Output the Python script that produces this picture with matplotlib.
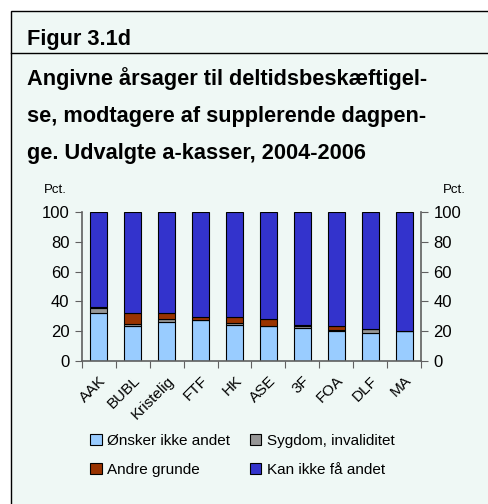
import numpy as np
import matplotlib.pyplot as plt
import matplotlib.transforms as mtransforms
from matplotlib.patches import Rectangle, Patch
from matplotlib.lines import Line2D

plt.rcParams['font.family'] = ['Liberation Sans', 'DejaVu Sans']

# --- Data (pct.) ---
kasser = ["AAK", "BUBL", "Kristelig", "FTF", "HK", "ASE", "3F", "FOA", "DLF", "MA"]
onsker_ikke = [32.0, 23.5, 26.4, 27.3, 23.9, 23.3, 21.9, 20.4, 19.0, 20.4]
sygdom = [3.5, 1.2, 2.0, 0.5, 1.4, 0.3, 1.4, 0.2, 2.5, 0.0]
andre = [0.5, 7.8, 3.6, 2.0, 4.0, 4.4, 1.1, 2.7, 0.3, 0.0]
kan_ikke = [64.0, 67.5, 68.0, 70.2, 70.7, 72.0, 75.6, 76.7, 78.2, 79.6]
series_names = ["Ønsker ikke andet", "Sygdom, invaliditet", "Andre grunde", "Kan ikke få andet"]
colors = ["#99CCFF", "#969696", "#993300", "#3333CC"]

bg = "#EFF8F5"
W, H = 489, 504
fig = plt.figure(figsize=(W / 100, H / 100), dpi=100, facecolor="white")

# panel box (open to the right and bottom)
fig.patches.append(Rectangle((10.5 / W, -0.05), 1.1, 1 - 11 / H + 0.05, transform=fig.transFigure,
                             facecolor=bg, edgecolor="black", lw=1.0, zorder=-2))
fig.lines.append(Line2D([10.5 / W, 1], [1 - 53 / H] * 2, transform=fig.transFigure,
                        color="black", lw=1.0, zorder=-1))

fig.text(27 / W, 1 - 45 / H, "Figur 3.1d", fontsize=15.7, fontweight="bold", va="baseline")
title = ["Angivne årsager til deltidsbeskæftigel-",
         "se, modtagere af supplerende dagpen-",
         "ge. Udvalgte a-kasser, 2004-2006"]
for i, line in enumerate(title):
    fig.text(27 / W, 1 - (85 + 37 * i) / H, line, fontsize=15.7, fontweight="bold", va="baseline")

ax = fig.add_axes([82 / W, 1 - 361 / H, 339 / W, 149 / H])
ax.set_facecolor("none")

x = np.arange(len(kasser))
bottom = np.zeros(len(kasser))
for vals, c, name in zip([onsker_ikke, sygdom, andre, kan_ikke], colors, series_names):
    ax.bar(x, vals, width=0.5, bottom=bottom, color=c, edgecolor="black", lw=0.8, label=name)
    bottom += np.array(vals)

ax.set_xlim(-0.5, len(kasser) - 0.5)
ax.set_ylim(0, 100)
ax.set_yticks(np.arange(0, 101, 20))

ax.set_xticks(np.arange(-0.5, len(kasser)), labels=[])
ax.set_xticks(x, minor=True)
ax.set_xticklabels(kasser, minor=True, rotation=45, ha="right", va="top",
                   rotation_mode="anchor", fontsize=11)
shift = mtransforms.ScaledTranslation(-6 / 100, 0, fig.dpi_scale_trans)
for lab in ax.get_xticklabels(minor=True):
    lab.set_transform(lab.get_transform() + shift)
ax.tick_params(axis="x", which="minor", length=0, pad=9)
ax.tick_params(axis="x", which="major", length=5, direction="out", color="#606060")
ax.tick_params(axis="y", which="major", length=5, direction="out", color="#606060",
               labelsize=12, left=True, right=True, labelleft=True, labelright=True, pad=4)

ax.spines["top"].set_visible(False)
for s in ["left", "right", "bottom"]:
    ax.spines[s].set_color("#606060")
    ax.spines[s].set_linewidth(1.2)

fig.text(44 / W, 1 - 190 / H, "Pct.", fontsize=9.5, va="center")
fig.text(443 / W, 1 - 190 / H, "Pct.", fontsize=9.5, va="center")

handles = [Patch(facecolor=c, edgecolor="black", lw=0.8) for c in colors]
order = [0, 2, 1, 3]
fig.legend([handles[i] for i in order], [series_names[i] for i in order],
           loc="upper left", bbox_to_anchor=(84 / W, 1 - 428 / H), ncol=2, frameon=False,
           fontsize=11, handlelength=0.75, handleheight=0.75, handletextpad=0.35,
           labelspacing=0.95, columnspacing=1.3, borderaxespad=0)

fig.savefig("out.png", dpi=100, facecolor="white")
